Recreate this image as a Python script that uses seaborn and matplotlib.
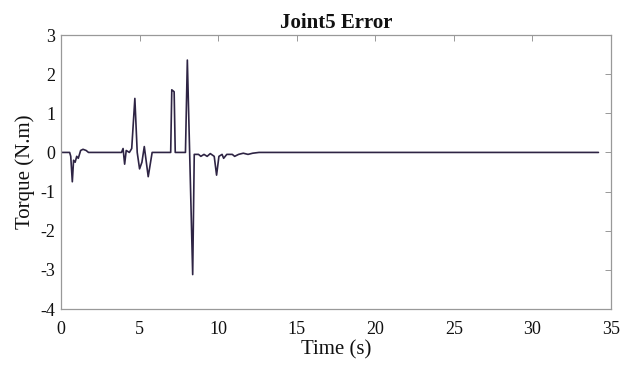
import matplotlib
matplotlib.use("Agg")
import matplotlib.pyplot as plt
import seaborn as sns
import pandas as pd

time_s = [0, 0.55, 0.62, 0.72, 0.8, 0.9, 1.0, 1.1, 1.25, 1.4, 1.6, 1.75,
          3.85, 3.95, 4.05, 4.15, 4.35, 4.5, 4.7, 4.85, 5.0, 5.15, 5.3, 5.55, 5.8,
          6.98, 7.05, 7.2, 7.27, 7.92, 8.04, 8.38, 8.48, 8.75, 8.9, 9.1, 9.3, 9.5,
          9.75, 9.9, 10.05, 10.25, 10.35, 10.55, 10.9, 11.05, 11.3, 11.6, 11.9,
          12.2, 12.6, 34.2]
torque_err = [0, 0, -0.1, -0.75, -0.2, -0.25, -0.1, -0.15, 0.05, 0.08, 0.05, 0,
              0, 0.1, -0.3, 0.05, 0, 0.1, 1.38, 0.0, -0.42, -0.25, 0.15, -0.62, 0,
              0, 1.6, 1.55, 0, 0, 2.36, -3.12, -0.05, -0.05, -0.1, -0.05, -0.1, -0.03,
              -0.1, -0.58, -0.1, -0.05, -0.15, -0.05, -0.05, -0.1, -0.05, -0.02, -0.05,
              -0.02, 0, 0]

x_ticks = [0, 5, 10, 15, 20, 25, 30, 35]
y_ticks = [-4, -3, -2, -1, 0, 1, 2, 3]

df = pd.DataFrame({"t": time_s, "e": torque_err})

sns.set_theme(style="white")
plt.rcParams["font.family"] = ["Liberation Serif", "DejaVu Serif"]

fig = plt.figure(figsize=(6.37, 3.65), dpi=100)
ax = fig.add_axes([61/637, 1-309/365, 550/637, 274/365])
sns.lineplot(data=df, x="t", y="e", ax=ax, color="#2e2444", linewidth=1.2,
             estimator=None, sort=False)

ax.set_xlim(0, 35)
ax.set_ylim(-4, 3)
ax.set_xticks(x_ticks)
ax.set_yticks(y_ticks)
ax.set_xticklabels([str(v) for v in x_ticks], fontsize=13)
ax.set_yticklabels([str(v) for v in y_ticks], fontsize=13)
ax.tick_params(direction="in", length=4, width=0.6, color="#888888",
               top=True, right=True, labelcolor="#111111")
ax.tick_params(axis="x", pad=9)
ax.tick_params(axis="y", pad=4)
for s in ax.spines.values():
    s.set_color("#999999")
    s.set_linewidth(0.9)
ax.set_xlabel("Time (s)", fontsize=15, labelpad=1, color="#111111")
ax.set_ylabel("Torque (N.m)", fontsize=15, labelpad=4, color="#111111")
ax.set_title("Joint5 Error", fontsize=15, fontweight="bold", pad=5, color="#111111")

fig.savefig("out.png", dpi=100)
